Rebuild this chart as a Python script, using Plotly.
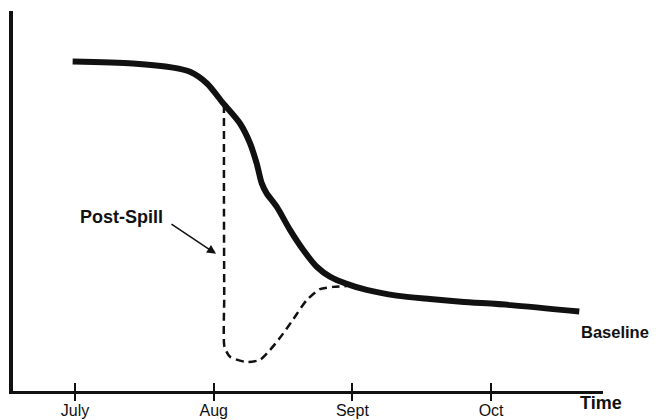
import plotly.graph_objects as go

# x in months after start of July (0 = July, 1 = Aug, ...), y in arbitrary units
tick_vals = [0, 1, 2, 3]
tick_text = ["July", "Aug", "Sept", "Oct"]

baseline_x = [-0.017, 0.418, 0.707, 0.829, 0.950, 1.069, 1.190, 1.262, 1.310, 1.346,
              1.382, 1.454, 1.550, 1.646, 1.743, 1.838, 1.959, 2.103, 2.319, 2.560,
              2.783, 3.143, 3.636]
baseline_y = [86.7, 86.2, 85.1, 84.0, 81.0, 75.7, 70.4, 65.2, 59.9, 54.7,
              52.0, 48.5, 42.4, 37.1, 32.7, 30.1, 28.2, 26.6, 25.1, 24.2,
              23.5, 22.6, 20.9]

spill_x = [1.074, 1.074, 1.076, 1.078, 1.118, 1.238, 1.334, 1.406, 1.478, 1.574,
           1.670, 1.766, 1.863, 1.959]
spill_y = [75.3, 50.0, 25.0, 11.6, 9.0, 7.6, 8.2, 10.8, 14.0, 18.9,
           23.9, 26.8, 27.4, 27.6]

x_range = [-0.447, 3.807]
y_range = [0, 100]

fig = go.Figure()
fig.add_trace(go.Scatter(x=spill_x, y=spill_y, mode="lines",
                         line=dict(color="#111", width=2.5, dash="8px,5px", shape="spline", smoothing=0.6),
                         showlegend=False, hoverinfo="skip"))
fig.add_trace(go.Scatter(x=baseline_x, y=baseline_y, mode="lines",
                         line=dict(color="#111", width=6, shape="spline", smoothing=0.8),
                         showlegend=False, hoverinfo="skip"))
# invisible traces to activate the extra x axes used for the tick marks
fig.add_trace(go.Scatter(x=[x_range[0]], y=[0], xaxis="x2", mode="markers",
                         marker=dict(opacity=0), showlegend=False, hoverinfo="skip"))
fig.add_trace(go.Scatter(x=[x_range[0]], y=[0], xaxis="x3", mode="markers",
                         marker=dict(opacity=0), showlegend=False, hoverinfo="skip"))

font = "Liberation Sans, Arial, sans-serif"
tick_axis = dict(range=x_range, overlaying="x", anchor="y", side="bottom", automargin=False,
                 showgrid=False, zeroline=False, showline=False,
                 tickvals=tick_vals, showticklabels=False, tickwidth=2, tickcolor="#111")
# page body adds an 8px offset; figure sized so the plot area lands where the reference has it
fig.update_layout(
    width=653, height=412,
    margin=dict(l=5, r=58, t=3, b=29, autoexpand=False),
    paper_bgcolor="white", plot_bgcolor="white",
    xaxis=dict(range=x_range, showgrid=False, zeroline=False, automargin=False,
               showline=True, linewidth=3, linecolor="#111",
               tickvals=tick_vals, ticktext=tick_text,
               ticks="outside", ticklen=3, tickwidth=2, tickcolor="#111",
               tickfont=dict(family=font, size=16, color="#111")),
    xaxis2=dict(tick_axis, ticks="inside", ticklen=8),
    xaxis3=dict(tick_axis, ticks="outside", ticklen=9),
    yaxis=dict(range=y_range, showgrid=False, zeroline=False, automargin=False,
               showline=True, linewidth=3.5, linecolor="#111",
               showticklabels=False, ticks=""),
    annotations=[
        dict(x=1.017, y=36.1, ax=0.685, ay=44.2, xref="x", yref="y", axref="x", ayref="y",
             text="", showarrow=True, arrowhead=2, arrowsize=1.2, arrowwidth=1.5, arrowcolor="#111"),
        dict(x=0.332, y=45.8, xref="x", yref="y", text="<b>Post-Spill</b>", showarrow=False,
             xanchor="center", yanchor="middle",
             font=dict(family=font, size=18, color="#111")),
        dict(x=0.959, y=0.155, xref="paper", yref="paper", text="<b>Baseline</b>", showarrow=False,
             xanchor="left", yanchor="middle",
             font=dict(family=font, size=16.5, color="#111")),
        dict(x=0.9966, y=-0.0316, xref="paper", yref="paper", text="<b>Time</b>", showarrow=False,
             xanchor="center", yanchor="middle",
             font=dict(family=font, size=18, color="#111")),
    ],
)

fig.write_html("out.html")
